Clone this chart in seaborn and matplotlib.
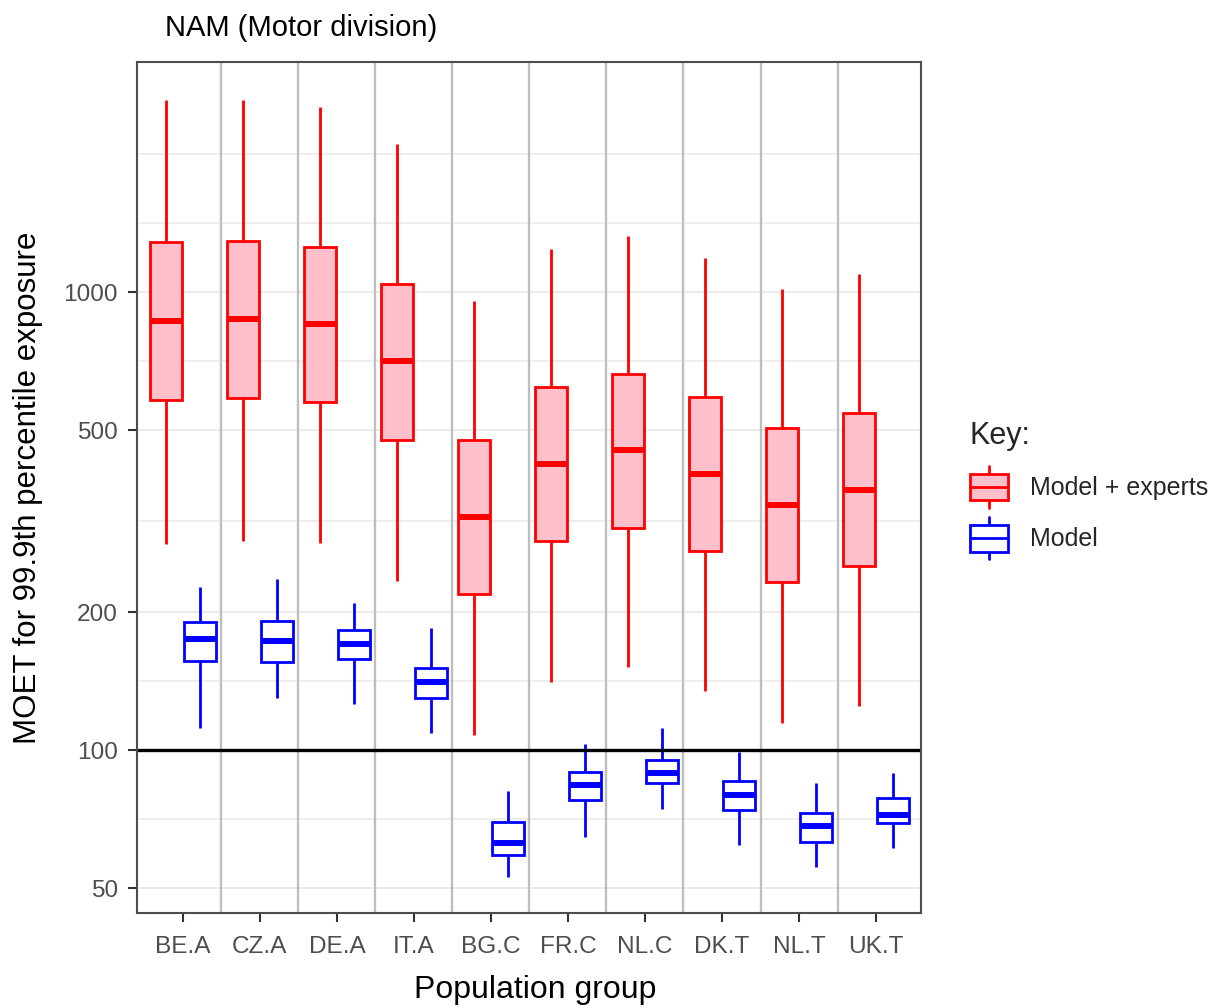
import numpy as np
import pandas as pd
import matplotlib
matplotlib.use("Agg")
import matplotlib.pyplot as plt
import seaborn as sns
from matplotlib.legend_handler import HandlerBase
from matplotlib.patches import Rectangle, Patch
from matplotlib.lines import Line2D
from matplotlib.ticker import FixedLocator, NullFormatter

# ---------------- data ----------------
groups = ["BE.A", "CZ.A", "DE.A", "IT.A", "BG.C", "FR.C", "NL.C", "DK.T", "NL.T", "UK.T"]
keys = ["Model + experts", "Model"]

# five-number summaries (lower whisker, Q1, median, Q3, upper whisker)
exp_low = [282, 286, 283, 234, 108, 141, 152, 135, 115, 125]
exp_q1 = [581, 587, 575, 477, 219, 286, 306, 272, 233, 252]
exp_med = [867, 874, 851, 708, 323, 422, 452, 402, 344, 371]
exp_q3 = [1288, 1295, 1258, 1044, 476, 621, 665, 591, 505, 546]
exp_high = [2624, 2624, 2537, 2110, 959, 1243, 1329, 1187, 1015, 1095]

mod_low = [112, 130, 126, 109, 53.0, 64.6, 74.5, 62.2, 55.7, 61.2]
mod_q1 = [157, 156, 158, 130, 59.2, 77.9, 84.7, 74.1, 63.2, 69.3]
mod_med = [175, 173, 171, 141, 62.6, 83.8, 89.3, 80.0, 68.2, 72.4]
mod_q3 = [191, 192, 183, 151, 69.9, 89.6, 95.4, 85.6, 72.9, 78.6]
mod_high = [227, 237, 210, 185, 81.7, 103, 112, 99, 84.7, 89.1]

y_ticks = [50, 100, 200, 500, 1000]
reference_level = 100

title = "NAM (Motor division)"
x_title = "Population group"
y_title = "MOET for 99.9th percentile exposure"
legend_title = "Key:"

# ---------------- long table ----------------
rows = []
for key, stats in [(keys[0], [exp_low, exp_q1, exp_med, exp_q3, exp_high]),
                   (keys[1], [mod_low, mod_q1, mod_med, mod_q3, mod_high])]:
    for i, g in enumerate(groups):
        for s in stats:
            rows.append({"group": g, "key": key, "value": s[i]})
df = pd.DataFrame(rows)

edge_colors = {keys[0]: "#FF0000", keys[1]: "#0000FF"}
fill_colors = {keys[0]: "#FFC0CB", keys[1]: "#FFFFFF"}

# ---------------- style ----------------
sns.set_style("white")
plt.rcParams["font.family"] = ["Liberation Sans", "DejaVu Sans"]

W, H = 1218, 1008
fig = plt.figure(figsize=(W / 100, H / 100), dpi=100)
pl, pr, pt, pb = 136.7, 920.7, 61.7, 913.3
ax = fig.add_axes([pl / W, 1 - pb / H, (pr - pl) / W, (pb - pt) / H])

sns.boxplot(data=df, x="group", y="value", hue="key", order=groups, hue_order=keys,
            palette=fill_colors, saturation=1, width=0.9, gap=0.08,
            whis=(0, 100), showcaps=False, fliersize=0, linewidth=2,
            log_scale=True, legend=False, ax=ax,
            medianprops={"linewidth": 4.3})

for cont in ax.containers:
    boxes = list(getattr(cont, "boxes", []))
    if not boxes:
        continue
    fc = boxes[0].get_facecolor()
    key = keys[0] if fc[1] < 0.9 else keys[1]
    c = edge_colors[key]
    for b in boxes:
        b.set_edgecolor(c)
        b.set_linewidth(2)
    for l in cont.whiskers:
        l.set_color(c)
        l.set_linewidth(2)
    for l in cont.medians:
        l.set_color(c)

ax.set_yscale("log")
ax.set_ylim(44.07, 3189)
ax.set_xlim(-0.6, 9.58)

# group separators and reference line
for i in range(len(groups) - 1):
    ax.axvline(i + 0.5, color="#BEBEBE", lw=1.7, zorder=1)
ax.axhline(reference_level, color="black", lw=2.4, zorder=5)

# ticks & grid
ax.yaxis.set_major_locator(FixedLocator(y_ticks))
ax.set_yticklabels([str(t) for t in y_ticks])
ext = [y_ticks[0] ** 2 / y_ticks[1]] + y_ticks + [y_ticks[-1] ** 2 / y_ticks[-2]]
minor = [np.sqrt(a * b) for a, b in zip(ext[:-1], ext[1:])] + [ext[-1]]
ax.yaxis.set_minor_locator(FixedLocator(minor))
ax.yaxis.set_minor_formatter(NullFormatter())
ax.set_axisbelow(True)
ax.grid(False)
ax.grid(which="major", axis="y", color="#EBEBEB", lw=1.4, zorder=0)
ax.grid(which="minor", axis="y", color="#EBEBEB", lw=1.2, zorder=0)
ax.tick_params(which="minor", length=0)
ax.tick_params(which="major", axis="both", length=6.5, width=1.5, color="#333333",
               labelcolor="#4D4D4D", labelsize=17.6, direction="out",
               left=True, bottom=True)
ax.tick_params(axis="x", pad=10)
ax.tick_params(axis="y", pad=7)
for s in ax.spines.values():
    s.set_visible(True)
    s.set_color("#4D4D4D")
    s.set_linewidth(1.5)
    s.set_zorder(6)

ax.set_xlabel(x_title, fontsize=23, color="black")
ax.set_ylabel(y_title, fontsize=22.5, color="black")
ax.xaxis.set_label_coords((535 - pl) / (pr - pl), (pb - 990) / (pb - pt))
ax.xaxis.label.set_verticalalignment("center")
ax.yaxis.set_label_coords((28 - pl) / (pr - pl), 0.5)
ax.yaxis.label.set_verticalalignment("center")

fig.text(165 / W, 1 - 28 / H, title, fontsize=21, ha="left", va="center", color="black")


# ---------------- legend ----------------
class BoxKeyHandler(HandlerBase):
    def create_artists(self, legend, orig_handle, xdescent, ydescent, width, height,
                       fontsize, trans):
        fc = orig_handle.get_facecolor()
        ec = orig_handle.get_edgecolor()
        x0, y0 = -xdescent, -ydescent
        bh = height * 0.63
        by = y0 + (height - bh) / 2
        cx = x0 + width / 2
        w1 = Line2D([cx, cx], [y0, by], color=ec, lw=2, transform=trans)
        w2 = Line2D([cx, cx], [by + bh, y0 + height], color=ec, lw=2, transform=trans)
        rect = Rectangle((x0, by), width, bh, facecolor=fc, edgecolor=ec, lw=2,
                         transform=trans)
        med = Line2D([x0, x0 + width], [by + bh / 2] * 2, color=ec, lw=2, transform=trans)
        return [w1, w2, rect, med]


handles = [Patch(facecolor=fill_colors[k], edgecolor=edge_colors[k], label=k) for k in keys]
leg = fig.legend(handles=handles, handler_map={Patch: BoxKeyHandler()},
                 loc="upper left", bbox_to_anchor=(970 / W, 1 - 421 / H),
                 frameon=False, fontsize=18, title=legend_title, title_fontsize=22,
                 alignment="left", borderpad=0, borderaxespad=0,
                 handlelength=1.53, handleheight=2.2, handletextpad=0.86,
                 labelspacing=0.37)
leg._legend_box.sep = 11

fig.savefig("out.png", dpi=100)
